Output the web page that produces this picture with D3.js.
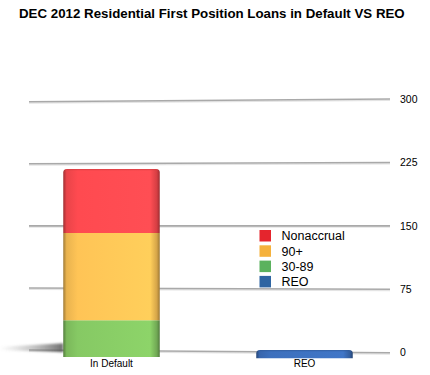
<!DOCTYPE html>
<html><head><meta charset="utf-8">
<script src="https://cdn.jsdelivr.net/npm/d3@7"></script>
<style>html,body{margin:0;padding:0;background:#fff;}svg{display:block;font-family:"Liberation Sans",Arial,sans-serif;}</style>
</head><body>
<script>
const categories = ["In Default", "REO"];
const seriesNames = ["30-89", "90+", "Nonaccrual", "REO"];
const values3089 = [44, 0];
const values90 = [105, 0];
const valuesNonaccrual = [77, 0];
const valuesREO = [0, 10];
const tickValues = [0, 75, 150, 225, 300];
const legendNames = ["Nonaccrual", "90+", "30-89", "REO"];

const W = 430, H = 375;
const svg = d3.select("body").append("svg").attr("width", W).attr("height", H);
const defs = svg.append("defs");

const colors = {"Nonaccrual": "#ff4a50", "90+": "#ffc456", "30-89": "#86c964", "REO": "#3d70bd"};
const legendColors = {"Nonaccrual": "#e5252d", "90+": "#f5b13c", "30-89": "#5bb25e", "REO": "#2f65a2"};

const x0 = 29, x1 = 390;
const yL = d3.scaleLinear().domain([0, 300]).range([350, 101.7]);
const yR = d3.scaleLinear().domain([0, 300]).range([352.7, 99]);
const yAt = (v, x) => yL(v) + (yR(v) - yL(v)) * (x - x0) / (x1 - x0);
const frontOffset = 6.3;

const xBand = d3.scaleBand().domain(categories).range([15, 401]).paddingInner(0.5).paddingOuter(0.25);

// title
svg.append("text").attr("x", 19).attr("y", 17.5).attr("font-size", 13.3).attr("font-weight", "bold")
  .attr("fill", "#000").text("DEC 2012 Residential First Position Loans in Default VS REO");

// gridlines
const blur = defs.append("filter").attr("id", "blur").attr("x", "-20%").attr("y", "-200%").attr("width", "140%").attr("height", "500%");
blur.append("feGaussianBlur").attr("stdDeviation", 1.2);
const grid = svg.append("g");
tickValues.forEach(t => {
  grid.append("line").attr("x1", x0).attr("x2", x1).attr("y1", yL(t) + 1.2).attr("y2", yR(t) + 1.2)
    .attr("stroke", "#e4e4e4").attr("stroke-width", 1.5);
  grid.append("line").attr("x1", x0).attr("x2", x1).attr("y1", yL(t)).attr("y2", yR(t))
    .attr("stroke", "#a9a9a9").attr("stroke-width", 1.6);
  svg.append("text").attr("x", 400).attr("y", yR(t)).attr("dy", "0.35em").attr("font-size", 10.5)
    .attr("fill", "#000").text(t);
});

// shadow to the left of first bar
const sg = defs.append("linearGradient").attr("id", "shadowGrad").attr("x1", 0).attr("x2", 1).attr("y1", 0).attr("y2", 0);
sg.append("stop").attr("offset", 0).attr("stop-color", "#999").attr("stop-opacity", 0);
sg.append("stop").attr("offset", 0.5).attr("stop-color", "#888").attr("stop-opacity", 0.45);
sg.append("stop").attr("offset", 1).attr("stop-color", "#555").attr("stop-opacity", 0.85);
const bx = xBand("In Default");
svg.append("path")
  .attr("d", `M${bx},${yAt(0, bx) - 7} L${bx},${yAt(0, bx) + 2} L0,${yAt(0, 0) + 0.5} L0,${yAt(0, 0) - 3} Z`)
  .attr("fill", "url(#shadowGrad)").attr("filter", "url(#blur)");

// bar gradients
function makeGrad(id, base) {
  const c = d3.color(base);
  const g = defs.append("linearGradient").attr("id", id).attr("x1", 0).attr("x2", 1).attr("y1", 0).attr("y2", 0);
  g.append("stop").attr("offset", 0).attr("stop-color", c.darker(1.3));
  g.append("stop").attr("offset", 0.035).attr("stop-color", c.darker(0.25));
  g.append("stop").attr("offset", 0.15).attr("stop-color", c);
  g.append("stop").attr("offset", 0.9).attr("stop-color", c.brighter(0.15));
  g.append("stop").attr("offset", 0.97).attr("stop-color", c.darker(0.5));
  g.append("stop").attr("offset", 1).attr("stop-color", c.darker(1.4));
}
seriesNames.forEach(s => makeGrad("g" + s.replace(/[^a-z0-9]/gi, ""), colors[s]));

const table = categories.map((c, i) => ({cat: c, "30-89": values3089[i], "90+": values90[i], "Nonaccrual": valuesNonaccrual[i], "REO": valuesREO[i]}));
const stacked = d3.stack().keys(seriesNames)(table);

const barsG = svg.append("g");
stacked.forEach((layer, li) => {
  layer.forEach((d, i) => {
    if (d[1] - d[0] <= 0) return;
    const cat = categories[i];
    const xa = xBand(cat), w = xBand.bandwidth();
    const cx = xa + w / 2;
    const yTop = yAt(d[1], cx) + frontOffset;
    const yBot = yAt(d[0], cx) + frontOffset;
    const isTop = seriesNames.slice(li + 1).every(k => table[i][k] === 0);
    const r = isTop ? 3.5 : 0;
    const path = isTop
      ? `M${xa},${yBot} L${xa},${yTop + r} Q${xa},${yTop} ${xa + r},${yTop} L${xa + w - r},${yTop} Q${xa + w},${yTop} ${xa + w},${yTop + r} L${xa + w},${yBot} Z`
      : `M${xa},${yBot} L${xa},${yTop} L${xa + w},${yTop} L${xa + w},${yBot} Z`;
    barsG.append("path").attr("d", path).attr("fill", `url(#g${layer.key.replace(/[^a-z0-9]/gi, "")})`);
    if (isTop) {
      barsG.append("line").attr("x1", xa + r).attr("x2", xa + w - r).attr("y1", yTop + 0.6).attr("y2", yTop + 0.6)
        .attr("stroke", d3.color(colors[layer.key]).darker(0.6)).attr("stroke-opacity", 0.6).attr("stroke-width", 1.2);
    }
  });
});

// category labels
categories.forEach(c => {
  svg.append("text").attr("x", xBand(c) + xBand.bandwidth() / 2).attr("y", 366.5).attr("text-anchor", "middle")
    .attr("font-size", 10).attr("fill", "#000").text(c);
});

// legend
const lg = svg.append("g");
legendNames.forEach((n, i) => {
  const cy = 235.7 + i * 15.3;
  lg.append("rect").attr("x", 259.5).attr("y", cy - 5.7).attr("width", 11.5).attr("height", 11.5).attr("fill", legendColors[n]);
  lg.append("text").attr("x", 281.5).attr("y", cy).attr("dy", "0.36em").attr("font-size", 12.5).attr("fill", "#000").text(n);
});
</script>
</body></html>
